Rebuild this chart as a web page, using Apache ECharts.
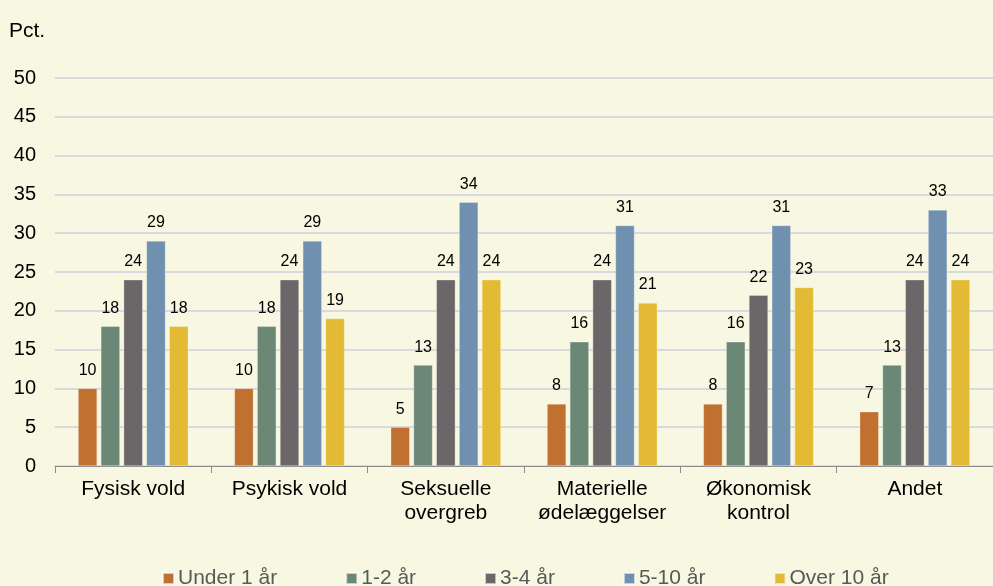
<!DOCTYPE html>
<html>
<head>
<meta charset="utf-8">
<script src="https://cdn.jsdelivr.net/npm/echarts@6/dist/echarts.min.js"></script>
<style>
    html, body { margin: 0; padding: 0; background: #F8F7E1; }
    #chart { width: 993px; height: 586px; }
</style>
</head>
<body>
<div id="chart"></div>
<script>
    var categories = ['Fysisk vold', 'Psykisk vold', 'Seksuelle\novergreb', 'Materielle\nødelæggelser', 'Økonomisk\nkontrol', 'Andet'];
    var seriesNames = ['Under 1 år', '1-2 år', '3-4 år', '5-10 år', 'Over 10 år'];
    var under1 = [10, 10, 5, 8, 8, 7];
    var y1to2 = [18, 18, 13, 16, 16, 13];
    var y3to4 = [24, 24, 24, 24, 22, 24];
    var y5to10 = [29, 29, 34, 31, 31, 33];
    var over10 = [18, 19, 24, 21, 23, 24];
    var colors = ['#C0702F', '#6B8877', '#6B6667', '#7090AF', '#E2BA33'];

    var font = '"Liberation Sans", Arial, sans-serif';
    var allData = [under1, y1to2, y3to4, y5to10, over10];

    var myChart = echarts.init(document.getElementById('chart'));
    var option = {
        backgroundColor: '#F8F7E1',
        animation: false,
        textStyle: { fontFamily: font },
        grid: {
            left: 55,
            right: -9,
            top: 78,
            bottom: 120
        },
        legend: {
            top: 563,
            left: 157,
            itemWidth: 11,
            itemHeight: 11,
            itemGap: 68,
            icon: 'rect',
            textStyle: { fontSize: 21, color: '#595959', fontFamily: font, padding: [0, 0, 0, -1] },
            data: seriesNames
        },
        xAxis: {
            type: 'category',
            data: categories,
            axisLine: { lineStyle: { color: '#8C8C8C', width: 1 } },
            axisTick: { show: true, length: 7, lineStyle: { color: '#8C8C8C' } },
            axisLabel: {
                fontSize: 21,
                color: '#000',
                margin: 11,
                lineHeight: 24,
                interval: 0
            }
        },
        yAxis: {
            type: 'value',
            min: 0,
            max: 50,
            interval: 5,
            name: 'Pct.',
            nameLocation: 'end',
            nameGap: 0,
            nameTextStyle: { fontSize: 21, color: '#000', align: 'left', padding: [0, 0, 36, -46] },
            axisLine: { show: false },
            axisTick: { show: false },
            splitLine: { lineStyle: { color: '#D9D9DF', width: 2 } },
            axisLabel: { fontSize: 20, color: '#000', margin: 19, align: 'right' }
        },
        series: seriesNames.map(function (name, i) {
            return {
                name: name,
                type: 'bar',
                data: allData[i],
                barWidth: 19,
                barGap: '20%',
                itemStyle: { color: colors[i], borderColor: 'rgba(255,255,255,0.6)', borderWidth: 0.5 },
                label: {
                    show: true,
                    position: 'top',
                    distance: 10,
                    fontSize: 16,
                    color: '#000'
                }
            };
        })
    };
    myChart.setOption(option);
</script>
</body>
</html>
